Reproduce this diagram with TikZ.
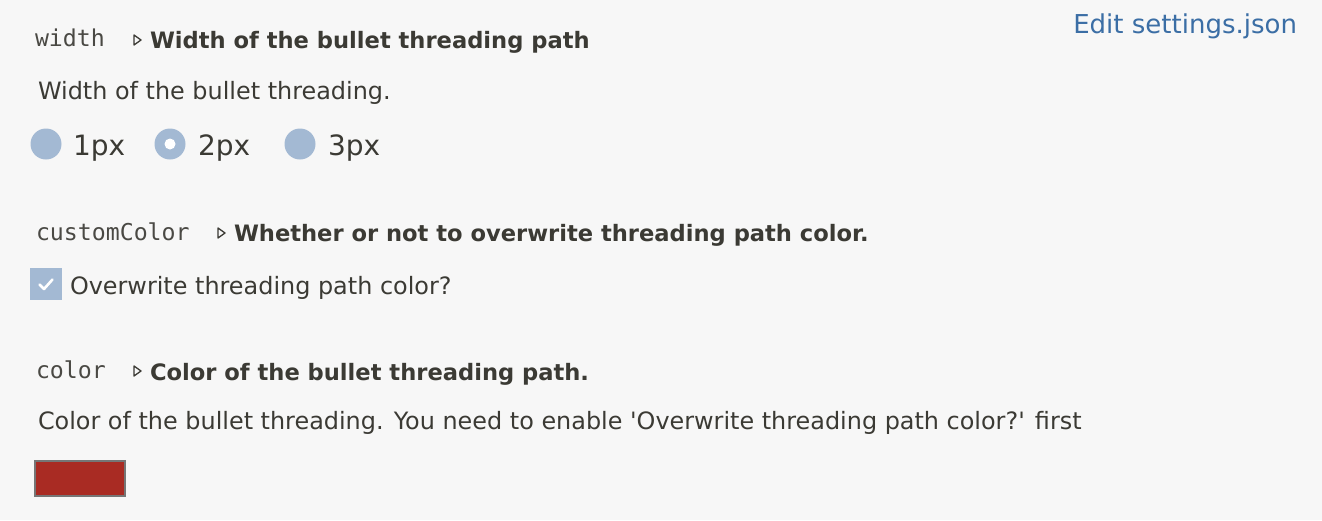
\documentclass[tikz,border=0pt]{standalone}
\usepackage{fontspec}
\setmainfont{DejaVu Sans}[Ligatures=TeXOff]
\setmonofont{DejaVu Sans Mono}
\definecolor{bg}{HTML}{F7F7F7}
\definecolor{txt}{HTML}{3B3A34}
\definecolor{mono}{HTML}{4A4944}
\definecolor{radio}{HTML}{A3B9D3}
\definecolor{link}{HTML}{3B6EA5}
\definecolor{swatch}{HTML}{A92B23}
\definecolor{swborder}{HTML}{767676}
\begin{document}
\begin{tikzpicture}[x=1pt,y=-1pt,
  lbl/.style={anchor=base west,inner sep=0pt,outer sep=0pt,text=txt,font=\fontsize{23.9}{28}\selectfont},
  key/.style={anchor=base west,inner sep=0pt,outer sep=0pt,text=mono,font=\ttfamily\fontsize{23.2}{27}\selectfont},
  head/.style={anchor=base west,inner sep=0pt,outer sep=0pt,text=txt,font=\bfseries\fontsize{22.6}{27}\selectfont},
  tri/.style={draw=txt,line width=1.3pt,line join=round,fill=none},
  radiobtn/.style={circle,fill=radio,minimum size=31pt,inner sep=0pt}]
\fill[bg] (0,0) rectangle (1322,520);
\useasboundingbox (0,0) rectangle (1322,520);
% section 1
\node[key] (k1) at (35,46) {width};
\draw[tri] (134,35) -- (141,40) -- (134,45) -- cycle;
\node[head] (h1) at (150,48) {Width of the bullet threading path};
\node[lbl] (d1) at (38,99) {Width of the bullet threading.};
\node[radiobtn] (r1) at (46,144) {};
\node[lbl,font=\fontsize{28}{32}\selectfont] (t1) at (73,155) {1px};
\node[radiobtn] (r2) at (170,144) {};
\fill[white] (r2.center) circle (5.5);
\node[lbl,font=\fontsize{28}{32}\selectfont] (t2) at (198,155) {2px};
\node[radiobtn] (r3) at (300,144) {};
\node[lbl,font=\fontsize{28}{32}\selectfont] (t3) at (328,155) {3px};
% section 2
\node[key] (k2) at (36,240) {customColor};
\draw[tri] (218,228) -- (225,233) -- (218,238) -- cycle;
\node[head] (h2) at (234,241) {Whether or not to overwrite threading path color.};
\node[fill=radio,minimum size=32pt,inner sep=0pt] (cb) at (46,284) {};
\draw[white,line width=2.6pt,line cap=round,line join=round] (39.5,284.5) -- (44,289) -- (52.5,279.5);
\node[lbl] (d2) at (70,294) {Overwrite threading path color?};
% section 3
\node[key] (k3) at (36,378) {color};
\draw[tri] (134,366) -- (141,371) -- (134,376) -- cycle;
\node[head] (h3) at (150,380) {Color of the bullet threading path.};
\node[lbl] (d3) at (38,429) {Color of the bullet threading. You need to enable 'Overwrite threading path color?' first};
\node[draw=swborder,line width=2pt,fill=swatch,minimum width=90pt,minimum height=35pt,inner sep=0pt] (sw) at (80,478.5) {};
% link
\node[lbl,anchor=base east,text=link,font=\fontsize{26}{30}\selectfont] (edit) at (1297,33) {Edit settings.json};
\end{tikzpicture}
\end{document}
